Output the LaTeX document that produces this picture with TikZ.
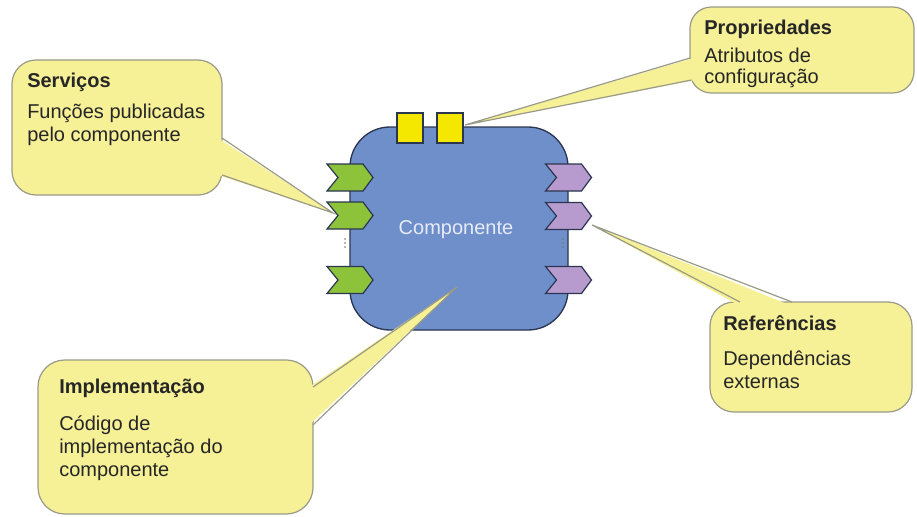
\documentclass[tikz,border=0pt]{standalone}
\usepackage{fontspec}
\setmainfont{Liberation Sans}
\definecolor{compblue}{HTML}{6F8FCB}
\definecolor{compline}{HTML}{2A3550}
\definecolor{greenport}{HTML}{8DC33A}
\definecolor{purpleport}{HTML}{B79BCF}
\definecolor{propyellow}{HTML}{F4E800}
\definecolor{calloutfill}{HTML}{F6F097}
\definecolor{calloutline}{HTML}{9A9A88}
\definecolor{comptext}{HTML}{E6EBF6}
\begin{document}
\begin{tikzpicture}[x=0.75pt,y=-0.75pt,
  callout/.style={draw=calloutline, fill=calloutfill, line width=0.9pt},
  pointerfill/.style={fill=calloutfill},
  pointerline/.style={draw=calloutline, line width=0.9pt, line join=miter},
  ctitle/.style={font=\bfseries\fontsize{15}{17.25}\selectfont, anchor=base west, inner sep=0pt, text=black!85},
  cbody/.style={font=\fontsize{15}{17.25}\selectfont, anchor=north west, inner sep=0pt, align=left, text=black!85},
  portline/.style={draw=compline, line width=0.9pt},
  chevron/.pic={\path[pic actions] (-23,-13.5) -- (13,-13.5) -- (23,0) -- (13,13.5) -- (-23,13.5) -- (-12,0) -- cycle;},
  dotcol/.style={fill=black!55}
]
\useasboundingbox (0,0) rectangle (917,517);

% component
\draw[fill=compblue, draw=compline, line width=1pt, rounded corners=30pt] (350,127) rectangle (568,330);
\node[font=\fontsize{15}{18}\selectfont, text=comptext, anchor=base, inner sep=0pt] (comptext) at (456,234) {Componente};

% property squares
\node[draw=compline, fill=propyellow, line width=0.9pt, minimum width=19.5pt, minimum height=22.5pt, inner sep=0pt] (prop1) at (410,128) {};
\node[draw=compline, fill=propyellow, line width=0.9pt, minimum width=19.5pt, minimum height=22.5pt, inner sep=0pt] (prop2) at (450,128) {};

% service ports
\pic[portline, fill=greenport] (s1) at (350,177.5) {chevron};
\pic[portline, fill=greenport] (s2) at (350,215.5) {chevron};
\pic[portline, fill=greenport] (s3) at (350,280) {chevron};
% reference ports
\pic[portline, fill=purpleport] (r1) at (568.5,177.5) {chevron};
\pic[portline, fill=purpleport] (r2) at (568.5,216) {chevron};
\pic[portline, fill=purpleport] (r3) at (568.5,280) {chevron};

% dots
\foreach \yy in {239,243,247} {
  \fill[dotcol] (345,\yy) circle (0.6pt);
  \fill[dotcol] (563,\yy) circle (0.6pt);
}

% pointer tips
\coordinate (tipS) at (333,213);
\coordinate (tipP) at (465,125);
\coordinate (tipR) at (592,225);
\coordinate (tipI) at (457,287);

% Servicos callout
\draw[callout, rounded corners=18pt] (12,60) rectangle (222,195);
\coordinate (sA) at (222,138); \coordinate (sB) at (222,175);
\fill[pointerfill] ([xshift=-3pt]sA) -- (tipS) -- ([xshift=-3pt]sB) -- cycle;
\draw[pointerline] (sA) -- (tipS) -- (sB);
\node[ctitle] (servt) at (27,88) {Serviços};
\node[cbody] (servb) at (27,103.5) {Funções publicadas\\pelo componente};

% Propriedades callout
\draw[callout, rounded corners=16pt] (690,7) rectangle (914,93);
\coordinate (pA) at (690,58); \coordinate (pB) at (691.5,80);
\fill[pointerfill] ([xshift=3pt]pA) -- (tipP) -- ([xshift=3pt]pB) -- cycle;
\draw[pointerline] (pA) -- (tipP) -- (pB);
\node[ctitle] (propt) at (704,35) {Propriedades};
\node[cbody, font=\fontsize{15}{15.75}\selectfont] (propb) at (704,47.5) {Atributos de\\configuração};

% Referencias callout
\draw[callout, rounded corners=18pt] (710,302) rectangle (912,412);
\coordinate (rA) at (740,302); \coordinate (rB) at (792,302);
\fill[pointerfill] ([yshift=-3pt]rA) -- (tipR) -- ([yshift=-3pt]rB) -- cycle;
\draw[pointerline] (rA) -- (tipR) -- (rB);
\node[ctitle] (reft) at (723,330) {Referências};
\node[cbody] (refb) at (723,350.5) {Dependências\\externas};

% Implementacao callout
\draw[callout, rounded corners=20pt] (38,360) rectangle (313,514);
\coordinate (iA) at (313,387); \coordinate (iB) at (313,425);
\fill[pointerfill] ([xshift=-3pt]iA) -- (tipI) -- ([xshift=-3pt]iB) -- cycle;
\draw[pointerline] (iA) -- (tipI) -- (iB);
\node[ctitle] (implt) at (59,393) {Implementação};
\node[cbody] (implb) at (59,415.5) {Código de\\implementação do\\componente};
\end{tikzpicture}
\end{document}
